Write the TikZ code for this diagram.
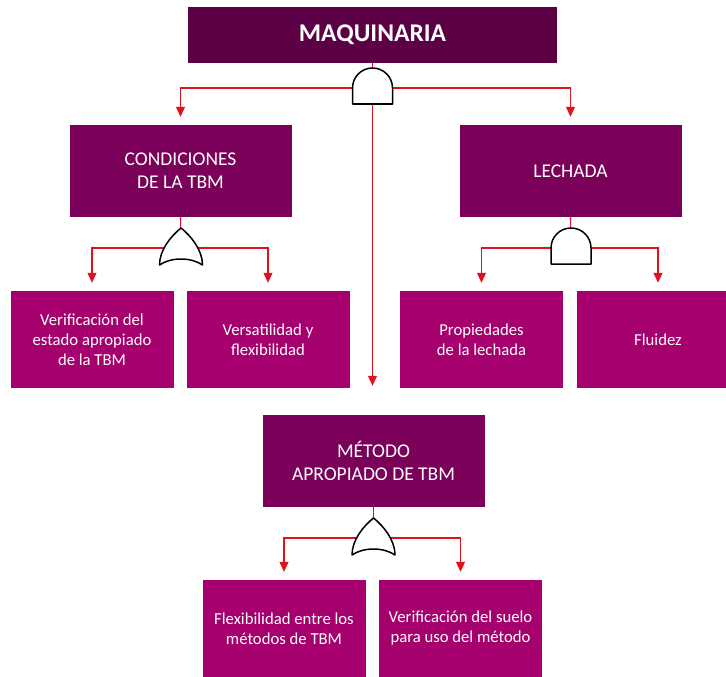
\documentclass[tikz,border=0pt]{standalone}
\usepackage{fontspec}
\setmainfont{Carlito}
\usetikzlibrary{arrows.meta}
\definecolor{topc}{HTML}{5C0045}
\definecolor{midc}{HTML}{7A0059}
\definecolor{leafc}{HTML}{A6006F}
\definecolor{wirec}{HTML}{E3101E}
\begin{document}
\begin{tikzpicture}[x=1pt,y=-1pt,
  topbox/.style={rectangle, inner sep=0pt, fill=topc, text=white, align=center,
    minimum width=369pt, minimum height=56pt, font=\bfseries\fontsize{25.5}{30}\selectfont},
  midbox/.style={rectangle, inner sep=0pt, fill=midc, text=white, align=center,
    minimum width=222pt, minimum height=92pt, font=\fontsize{19.5}{23}\selectfont},
  leafbox/.style={rectangle, inner sep=0pt, fill=leafc, text=white, align=center,
    minimum width=163pt, minimum height=97pt, font=\fontsize{16.7}{20}\selectfont},
  wire/.style={draw=wirec, line width=1.1pt},
  feed/.style={wire, -{Triangle[width=9pt,length=10pt]}, shorten >=#1},
  feed/.default=8pt,
  gateline/.style={draw=black, fill=white, line width=1.5pt, line join=round},
  andgate/.pic={\draw[gateline] (-20,16) -- (-20,0) arc[start angle=180, end angle=0, radius=20pt] -- (20,16) -- cycle;},
  orgate/.pic={\draw[gateline] (-21.5,17) .. controls (-21.5,2) and (-10,-12) .. (0,-20)
      .. controls (10,-12) and (21.5,2) .. (21.5,17)
      .. controls (10,9) and (-10,9) .. (-21.5,17) -- cycle;}
]
\useasboundingbox (0,0) rectangle (726,677);

% boxes
\node[topbox] (maq) at (372.5,35) {MAQUINARIA};
\node[midbox] (cond) at (180.5,171) {CONDICIONES\\DE LA TBM};
\node[midbox] (lech) at (570.5,171) {LECHADA};
\node[midbox] (met) at (373.5,461) {MÉTODO\\APROPIADO DE TBM};

\node[leafbox] (verif) at (92,339.5) {Verificación del\\estado apropiado\\de la TBM};
\node[leafbox] (vers) at (268,339.5) {Versatilidad y\\flexibilidad};
\node[leafbox] (prop) at (481.5,339.5) {Propiedades\\de la lechada};
\node[leafbox] (flu) at (658,339.5) {Fluidez};
\node[leafbox] (flex) at (284,628.5) {Flexibilidad entre los\\métodos de TBM};
\node[leafbox] (suelo) at (460.5,628.5) {Verificación del suelo\\para uso del método};

% gate positions
\coordinate (gA) at (372.5,88);
\coordinate (gC) at (181,248);
\coordinate (gL) at (571,248);
\coordinate (gM) at (373.5,538);

% connectors
\draw[wire] (maq.south) -- (gA);
\draw[feed] (gA) -| (cond.north);
\draw[feed] (gA) -| (lech.north);
\draw[feed=29pt] (gA) -- (gA |- met.north);

\draw[wire] (cond.south) -- (gC);
\draw[feed] (gC) -| (verif.north);
\draw[feed] (gC) -| (vers.north);

\draw[wire] (lech.south) -- (gL);
\draw[feed] (gL) -| (prop.north);
\draw[feed] (gL) -| (flu.north);

\draw[wire] (met.south) -- (gM);
\draw[feed] (gM) -| (flex.north);
\draw[feed] (gM) -| (suelo.north);

% gates on top of the wires
\pic at (gA) {andgate};
\pic at (gC) {orgate};
\pic at (gL) {andgate};
\pic at (gM) {orgate};
\end{tikzpicture}
\end{document}
